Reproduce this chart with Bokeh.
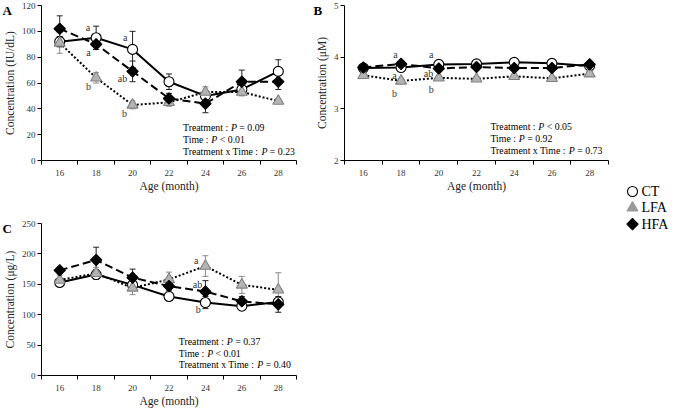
import numpy as np
from bokeh.plotting import figure
from bokeh.models import (ColumnDataSource, Whisker, Label, FixedTicker, Range1d, TeeHead)
from bokeh.layouts import row, column
from bokeh.embed import file_html
from bokeh.resources import INLINE
from bokeh.core.properties import value

# ---------------- data ----------------
ages = [16, 18, 20, 22, 24, 26, 28]
groups = ["CT", "LFA", "HFA"]

# Panel A (IU/dL)
a_ct = [92, 95, 86, 61, 50, 55, 69]
a_lfa = [91, 64, 43, 45, 53, 53, 46]
a_hfa = [102, 90, 69, 48, 44, 61, 61]
a_ct_se = [4, 9, 14, 6, 3, 4, 9]
a_lfa_se = [8, 4, 3, 3, 4, 3, 2]
a_hfa_se = [10, 4, 8, 4, 7, 9, 6]

# Panel B (uM)
b_ct = [3.79, 3.80, 3.86, 3.87, 3.90, 3.88, 3.83]
b_lfa = [3.65, 3.54, 3.60, 3.58, 3.63, 3.59, 3.68]
b_hfa = [3.80, 3.87, 3.78, 3.81, 3.79, 3.79, 3.86]
b_ct_se = [0.04, 0.05, 0.05, 0.04, 0.04, 0.04, 0.04]
b_lfa_se = [0.05, 0.05, 0.04, 0.04, 0.04, 0.04, 0.04]
b_hfa_se = [0.04, 0.04, 0.05, 0.04, 0.04, 0.04, 0.04]

# Panel C (ug/L)
c_ct = [153, 166, 149, 130, 120, 114, 121]
c_lfa = [157, 168, 144, 158, 180, 149, 141]
c_hfa = [173, 190, 161, 147, 138, 122, 117]
c_ct_se = [6, 8, 8, 5, 10, 5, 6]
c_lfa_se = [8, 10, 11, 12, 17, 14, 28]
c_hfa_se = [5, 21, 14, 8, 18, 8, 13]

a_stats = [("Treatment :", "= 0.09"), ("Time :", "< 0.01"), ("Treatment x Time :", "= 0.23")]
b_stats = [("Treatment :", "< 0.05"), ("Time :", "= 0.92"), ("Treatment x Time :", "= 0.73")]
c_stats = [("Treatment :", "= 0.37"), ("Time :", "< 0.01"), ("Treatment x Time :", "= 0.40")]

a_letters = [("a", 17.55, 103), ("a", 17.58, 84), ("b", 17.58, 57),
             ("a", 19.6, 95), ("ab", 19.45, 63.4), ("b", 19.55, 36.7)]
b_letters = [("a", 17.7, 4.06), ("a", 17.65, 3.65), ("b", 17.65, 3.29),
             ("a", 19.6, 4.06), ("ab", 19.45, 3.69), ("b", 19.6, 3.38)]
c_letters = [("a", 23.5, 189), ("ab", 23.56, 149), ("b", 23.6, 109)]

SERIF = "Liberation Serif"

# Times-compatible advance widths (per 1000 em) for offsets of mixed-style text
W = {" ": 250, "T": 611, "r": 333, "e": 444, "a": 444, "t": 278, "m": 778, "n": 500,
     ":": 278, "i": 278, "x": 500, "P": 611, "=": 564, "<": 564, ".": 250}
for d in "0123456789":
    W[d] = 500


def tw(s, size):
    return sum(W.get(c, 500) for c in s) / 1000.0 * size


STYLES = {
    "CT": dict(dash="solid", marker="circle", size=10, fill="white", lc="black",
               angle=0.0, ecol="#222222"),
    "LFA": dict(dash="2 2", marker="triangle", size=11, fill="#b4b4b4", lc="#808080",
                angle=0.0, ecol="#8a8a8a"),
    "HFA": dict(dash="8 4", marker="square", size=8, fill="black", lc="black",
                angle=np.pi / 4, ecol="#222222"),
}


def make_panel(width, height, mb, yr, yticks, ylabel, letter, data, ses,
               stats, stat_x, stat_y, letters):
    p = figure(width=width, height=height, x_range=Range1d(15, 29), y_range=Range1d(*yr),
               output_backend="svg", toolbar_location=None,
               min_border_left=mb[0], min_border_right=mb[1],
               min_border_top=mb[2], min_border_bottom=mb[3])
    p.outline_line_color = None
    p.grid.visible = False
    p.background_fill_color = "white"
    p.border_fill_color = "white"

    # panel letter as a left-aligned title pulled over the frame's top-left corner
    p.title.text = letter
    p.title.align = "left"
    p.title.offset = -39
    p.title.standoff = -24
    p.title.text_font = SERIF
    p.title.text_font_size = "13px"
    p.title.text_font_style = "bold"
    p.title.text_color = "black"

    xa = p.xaxis[0]
    xa.ticker = FixedTicker(ticks=ages, minor_ticks=list(range(15, 30, 2)))
    xa.major_tick_out = 0
    xa.major_tick_in = 0
    xa.minor_tick_out = 4
    xa.minor_tick_in = 0
    xa.major_label_standoff = 5
    xa.axis_label = "Age (month)"
    xa.axis_label_standoff = 1

    ya = p.yaxis[0]
    ya.ticker = FixedTicker(ticks=yticks, minor_ticks=[])
    ya.major_tick_out = 4
    ya.major_tick_in = 0
    ya.minor_tick_out = 0
    ya.minor_tick_in = 0
    ya.major_label_standoff = 2
    ya.axis_label = ylabel
    ya.axis_label_standoff = 3

    for ax in (xa, ya):
        ax.axis_line_color = "black"
        ax.axis_line_width = 1
        ax.major_tick_line_color = "black"
        ax.minor_tick_line_color = "black"
        ax.major_label_text_font = SERIF
        ax.major_label_text_font_size = "9px"
        ax.major_label_text_color = "#333333"
        ax.axis_label_text_font = SERIF
        ax.axis_label_text_font_size = "11.5px"
        ax.axis_label_text_font_style = "normal"
        ax.axis_label_text_color = "#222222"

    srcs = {}
    for g, vals, se in zip(groups, data, ses):
        st = STYLES[g]
        src = ColumnDataSource(dict(x=ages, y=vals,
                                    upper=[v + s for v, s in zip(vals, se)],
                                    lower=[v - s for v, s in zip(vals, se)]))
        wk = Whisker(base="x", upper="upper", lower="lower", source=src,
                     line_color=st["ecol"], line_width=1, level="underlay",
                     upper_head=TeeHead(size=6, line_color=st["ecol"], line_width=1),
                     lower_head=TeeHead(size=6, line_color=st["ecol"], line_width=1))
        p.add_layout(wk)
        p.line("x", "y", source=src, line_color="black", line_width=2,
               line_dash=st["dash"])
        srcs[g] = src
    for g in groups:
        st = STYLES[g]
        p.scatter("x", "y", source=srcs[g], marker=st["marker"], size=st["size"],
                  fill_color=st["fill"], line_color=st["lc"], line_width=1.1,
                  angle=st["angle"])

    # significance letters
    lsrc = ColumnDataSource(dict(t=[l[0] for l in letters], x=[l[1] for l in letters],
                                 y=[l[2] for l in letters]))
    p.text("x", "y", text="t", source=lsrc, text_font=value(SERIF),
           text_font_size="10px", text_color="#333333", text_align="center",
           text_baseline="middle")

    # statistics text with italic P
    fs = 9.8
    for (pre, post), yy in zip(stats, stat_y):
        off_p = tw(pre + " ", fs)
        off_post = tw(pre + " P ", fs)
        for txt, off, style in ((pre, 0, "normal"), ("P", off_p, "italic"),
                                (post, off_post, "normal")):
            p.add_layout(Label(x=stat_x, y=yy, x_offset=off, text=txt, text_font=SERIF,
                               text_font_size=f"{fs}px", text_font_style=style,
                               text_color="black", text_align="left",
                               text_baseline="middle"))
    return p


pA = make_panel(300, 196, (41, 4, 5, 36), (0, 120), [0, 20, 40, 60, 80, 100, 120],
                "Concentration (IU/dL)", "A",
                [a_ct, a_lfa, a_hfa], [a_ct_se, a_lfa_se, a_hfa_se],
                a_stats, 22.77, [25.2, 16.0, 6.9], a_letters)

pB = make_panel(320, 196, (44, 12, 5, 36), (2, 5), [2, 3, 4, 5],
                "Concentration (\u03bcM)", "B",
                [b_ct, b_lfa, b_hfa], [b_ct_se, b_lfa_se, b_hfa_se],
                b_stats, 22.74, [2.65, 2.43, 2.2], b_letters)
pB.title.offset = -31

pC = make_panel(300, 213, (41, 4, 27, 30), (0, 250), [0, 50, 100, 150, 200, 250],
                "Concentration (\u03bcg/L)", "C",
                [c_ct, c_lfa, c_hfa], [c_ct_se, c_lfa_se, c_hfa_se],
                c_stats, 22.54, [56, 37, 18], c_letters)

# ---- legend key (own small canvas; its frame shares pB's borders, y counts pixels down) ----
LEG_W, LEG_H, LEG_TOP, LEG_BOT = 65, 280, 5, 36
pL = figure(width=LEG_W, height=LEG_H, x_range=Range1d(0, LEG_W),
            y_range=Range1d(LEG_H - LEG_BOT, LEG_TOP),
            output_backend="svg", toolbar_location=None, x_axis_type=None, y_axis_type=None,
            min_border_left=0, min_border_right=0, min_border_top=LEG_TOP,
            min_border_bottom=LEG_BOT)
pL.outline_line_color = None
pL.grid.visible = False
row_y = [191 + 16.3 * i for i in range(len(groups))]
leg_style = {
    "CT": dict(marker="circle", size=10, fill="white", lc="black", angle=0.0),
    "LFA": dict(marker="triangle", size=11, fill="#999999", lc="#999999", angle=0.0),
    "HFA": dict(marker="square", size=8, fill="black", lc="black", angle=np.pi / 4),
}
for g, yy in zip(groups, row_y):
    st = leg_style[g]
    lsrc = ColumnDataSource(dict(x=[12], y=[yy], t=[g]))
    pL.scatter("x", "y", source=lsrc, marker=st["marker"], size=st["size"],
               fill_color=st["fill"], line_color=st["lc"], line_width=1.1, angle=st["angle"])
    pL.text(21, "y", text="t", source=lsrc, text_font=value(SERIF), text_font_size="14px",
            text_color="black", text_align="left", text_baseline="middle")

layout = row(column(pA, pC), pB, pL)

open("out.html", "w").write(file_html(layout, INLINE))
